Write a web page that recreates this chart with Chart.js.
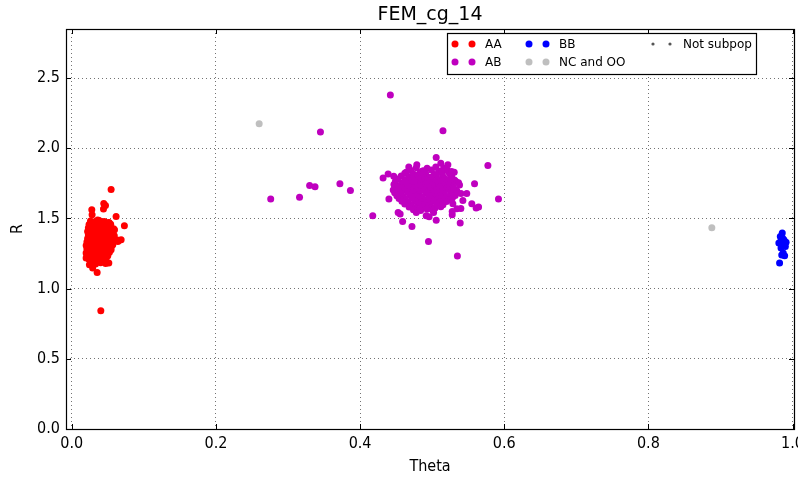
<!DOCTYPE html>
<html>
<head>
<meta charset="utf-8">
<script src="https://cdn.jsdelivr.net/npm/chart.js@4.4.1/dist/chart.umd.min.js"></script>
<style>
html,body{margin:0;padding:0;background:#fff;}
#wrap{width:798px;height:477px;position:relative;}
</style>
</head>
<body>
<div id="wrap"><canvas id="c" width="798" height="477"></canvas></div>
<script>
const chartTitle = 'FEM_cg_14';
const xTitle = 'Theta';
const yTitle = 'R';
const xTicks = [0.0, 0.2, 0.4, 0.6, 0.8, 1.0];
const yTicks = [0.0, 0.5, 1.0, 1.5, 2.0, 2.5];
const seriesNames = ['AA', 'AB', 'BB', 'NC and OO', 'Not subpop'];

const aaPoints = [
[0.026,1.482],[0.032,1.476],[0.038,1.485],[0.045,1.479],[0.051,1.471],
[0.024,1.457],[0.030,1.451],[0.036,1.460],[0.042,1.453],[0.048,1.447],[0.054,1.458],
[0.023,1.432],[0.029,1.426],[0.035,1.435],[0.041,1.428],[0.047,1.421],[0.053,1.434],[0.058,1.427],
[0.022,1.407],[0.028,1.401],[0.034,1.410],[0.040,1.404],[0.046,1.398],[0.052,1.409],[0.057,1.402],
[0.023,1.382],[0.029,1.376],[0.035,1.385],[0.041,1.379],[0.047,1.373],[0.053,1.384],[0.059,1.377],
[0.022,1.357],[0.028,1.351],[0.034,1.360],[0.040,1.354],[0.046,1.348],[0.052,1.359],[0.058,1.352],[0.063,1.346],
[0.021,1.332],[0.027,1.326],[0.033,1.335],[0.039,1.329],[0.045,1.323],[0.051,1.334],[0.057,1.327],
[0.020,1.307],[0.026,1.301],[0.032,1.310],[0.038,1.304],[0.044,1.298],[0.050,1.309],[0.055,1.302],
[0.021,1.282],[0.027,1.276],[0.033,1.285],[0.039,1.279],[0.045,1.273],[0.051,1.284],
[0.022,1.257],[0.028,1.251],[0.034,1.260],[0.040,1.254],[0.046,1.248],
[0.021,1.232],[0.027,1.226],[0.033,1.235],[0.039,1.229],[0.045,1.223],[0.050,1.234],
[0.024,1.207],[0.030,1.201],[0.036,1.210],[0.043,1.204],
[0.027,1.182],[0.033,1.176],[0.040,1.185],[0.047,1.179],
[0.0546,1.707],[0.0468,1.593],[0.044,1.567],[0.0278,1.562],[0.0282,1.526],[0.0615,1.514],
[0.073,1.448],[0.0593,1.42],[0.0653,1.343],[0.0569,1.313],[0.0514,1.182],[0.0352,1.115],
[0.0199,1.254],[0.0199,1.218],[0.0245,1.17],[0.029,1.147],[0.037,1.206],[0.0417,1.206],
[0.0477,1.218],[0.0523,1.26],[0.036,1.49],[0.052,1.47],[0.0546,1.277],[0.0639,1.336],
[0.0685,1.348],[0.0444,1.606],[0.0403,0.843]
];

const abPoints = [
[0.478,1.862],[0.493,1.857],[0.505,1.866],[0.516,1.859],
[0.470,1.843],[0.486,1.836],[0.499,1.845],[0.509,1.838],[0.521,1.842],
[0.462,1.822],[0.474,1.817],[0.483,1.826],[0.491,1.819],[0.503,1.814],[0.514,1.824],[0.524,1.818],
[0.457,1.803],[0.468,1.797],[0.479,1.806],[0.488,1.799],[0.497,1.794],[0.506,1.805],[0.515,1.798],[0.527,1.802],
[0.452,1.782],[0.463,1.776],[0.472,1.785],[0.481,1.779],[0.490,1.773],[0.499,1.784],[0.508,1.777],[0.518,1.781],[0.531,1.775],
[0.449,1.763],[0.459,1.757],[0.468,1.766],[0.476,1.759],[0.485,1.754],[0.494,1.765],[0.503,1.758],[0.511,1.762],[0.520,1.756],[0.533,1.764],
[0.447,1.742],[0.456,1.736],[0.465,1.745],[0.474,1.739],[0.483,1.733],[0.491,1.744],[0.500,1.737],[0.509,1.741],[0.517,1.735],[0.526,1.746],[0.538,1.738],
[0.450,1.723],[0.458,1.717],[0.467,1.726],[0.476,1.719],[0.485,1.714],[0.494,1.725],[0.502,1.718],[0.511,1.722],[0.520,1.716],[0.529,1.724],
[0.446,1.702],[0.455,1.696],[0.463,1.705],[0.471,1.698],[0.480,1.693],[0.489,1.704],[0.497,1.697],[0.506,1.701],[0.515,1.695],[0.523,1.706],[0.534,1.699],
[0.448,1.683],[0.457,1.677],[0.466,1.686],[0.474,1.679],[0.482,1.674],[0.491,1.685],[0.499,1.678],[0.508,1.682],[0.517,1.676],[0.526,1.684],
[0.451,1.662],[0.460,1.656],[0.469,1.665],[0.478,1.658],[0.486,1.653],[0.495,1.664],[0.503,1.657],[0.512,1.661],[0.521,1.655],[0.532,1.663],
[0.454,1.643],[0.463,1.637],[0.472,1.646],[0.481,1.639],[0.490,1.634],[0.498,1.645],[0.507,1.638],[0.516,1.642],[0.524,1.636],
[0.458,1.622],[0.467,1.616],[0.476,1.625],[0.485,1.618],[0.494,1.613],[0.502,1.624],[0.511,1.617],[0.520,1.621],
[0.462,1.603],[0.471,1.597],[0.480,1.606],[0.489,1.599],[0.497,1.594],[0.506,1.605],[0.515,1.598],
[0.468,1.582],[0.477,1.576],[0.486,1.585],[0.495,1.578],[0.504,1.574],[0.512,1.584],
[0.474,1.563],[0.484,1.557],[0.493,1.566],[0.501,1.559],
[0.345,2.117],[0.442,2.379],[0.276,1.638],[0.316,1.652],[0.330,1.735],[0.3375,1.726],
[0.372,1.747],[0.3866,1.70],[0.4176,1.519],[0.4319,1.788],[0.4389,1.816],[0.440,1.638],
[0.4528,1.543],[0.4556,1.531],[0.459,1.479],[0.4639,1.830],[0.4676,1.866],[0.4467,1.80],
[0.515,2.125],[0.5773,1.878],[0.5588,1.747],[0.592,1.638],[0.5389,1.467],[0.4949,1.336],
[0.535,1.232],[0.472,1.443],[0.555,1.605],[0.5644,1.581],[0.561,1.574],[0.548,1.678],
[0.540,1.678],[0.5426,1.628],[0.5366,1.754],[0.5398,1.571],[0.5343,1.569],[0.5278,1.550],
[0.5278,1.526],[0.5056,1.488],[0.4917,1.519],[0.4958,1.512],[0.502,1.543],[0.478,1.543],
[0.5056,1.935],[0.5218,1.882],[0.512,1.894],[0.527,1.835],[0.5306,1.830],[0.513,1.835],
[0.526,1.781],[0.5296,1.717],[0.528,1.645],[0.5287,1.605],[0.4787,1.882],[0.4879,1.840]
];

const bbPoints = [
[0.9857,1.396],[0.983,1.372],[0.988,1.348],[0.981,1.325],[0.989,1.313],[0.984,1.289],
[0.987,1.254],[0.989,1.234],[0.982,1.182],[0.986,1.36],[0.984,1.34],[0.990,1.30],
[0.985,1.24],[0.991,1.33]
];

const ncooPoints = [[0.260,2.175],[0.888,1.434]];
const notSubpopPoints = [];

const toXY = arr => arr.map(p => ({x: p[0], y: p[1]}));
const FONT = "'DejaVu Sans Condensed', 'DejaVu Sans', sans-serif";
const LFONT = "'DejaVu Sans', sans-serif";

const frameAndLegend = {
  id: 'frameAndLegend',
  afterDraw(chart) {
    const ctx = chart.ctx;
    const a = chart.chartArea;
    const xs = chart.scales.x, ys = chart.scales.y;
    ctx.save();
    ctx.strokeStyle = '#000';
    ctx.lineWidth = 1;
    ctx.beginPath();
    xTicks.forEach(v => {
      const px = Math.round(xs.getPixelForValue(v)) + 0.5;
      ctx.moveTo(px, a.bottom); ctx.lineTo(px, a.bottom - 5);
      ctx.moveTo(px, a.top); ctx.lineTo(px, a.top + 5);
    });
    yTicks.forEach(v => {
      const py = Math.round(ys.getPixelForValue(v)) + 0.5;
      ctx.moveTo(a.left, py); ctx.lineTo(a.left + 5, py);
      ctx.moveTo(a.right, py); ctx.lineTo(a.right - 5, py);
    });
    ctx.stroke();
    ctx.lineWidth = 1.2;
    ctx.strokeRect(Math.round(a.left) + 0.5, Math.round(a.top) + 0.5, Math.round(a.right - a.left), Math.round(a.bottom - a.top));
    ctx.fillStyle = '#000';
    ctx.font = '19px ' + LFONT;
    ctx.textAlign = 'center';
    ctx.textBaseline = 'middle';
    ctx.fillText(chartTitle, (a.left + a.right) / 2, 15);
    const lx = 447, ly = 33, lw = 309, lh = 41;
    ctx.fillStyle = '#fff';
    ctx.fillRect(lx, ly, lw, lh);
    ctx.strokeStyle = '#000';
    ctx.lineWidth = 1.2;
    ctx.strokeRect(lx + 0.5, ly + 0.5, lw, lh);
    const cols = [8, 82, 206];
    const rows = [11, 29];
    ctx.font = '12px ' + LFONT;
    ctx.textAlign = 'left';
    chart.data.datasets.forEach((ds, i) => {
      const col = Math.floor(i / 2), row = i % 2;
      const cx = lx + cols[col], cy = ly + rows[row];
      ctx.fillStyle = ds.backgroundColor;
      [0, 17].forEach(dx => {
        ctx.beginPath();
        ctx.arc(cx + dx, cy, ds.pointRadius, 0, Math.PI * 2);
        ctx.fill();
      });
      ctx.fillStyle = '#000';
      ctx.fillText(ds.label, cx + 30, cy + 1);
    });
    ctx.restore();
  }
};

new Chart(document.getElementById('c'), {
  type: 'scatter',
  data: {
    datasets: [
      {label: seriesNames[0], data: toXY(aaPoints), backgroundColor: '#ff0000', borderWidth: 0, pointRadius: 3.5},
      {label: seriesNames[1], data: toXY(abPoints), backgroundColor: '#bf00bf', borderWidth: 0, pointRadius: 3.5},
      {label: seriesNames[2], data: toXY(bbPoints), backgroundColor: '#0000ff', borderWidth: 0, pointRadius: 3.5},
      {label: seriesNames[3], data: toXY(ncooPoints), backgroundColor: '#bfbfbf', borderWidth: 0, pointRadius: 3.5},
      {label: seriesNames[4], data: toXY(notSubpopPoints), backgroundColor: '#555555', borderWidth: 0, pointRadius: 1.6}
    ]
  },
  options: {
    responsive: false,
    animation: false,
    events: [],
    layout: {padding: {top: 29, right: 4, bottom: 0, left: 0}},
    plugins: {legend: {display: false}, title: {display: false}, tooltip: {enabled: false}},
    scales: {
      x: {
        type: 'linear', min: -0.008, max: 1.002,
        afterFit: s => { s.height = 48; s.paddingLeft = 0; s.paddingRight = 0; },
        afterBuildTicks: s => { s.ticks = xTicks.map(v => ({value: v})); },
        ticks: {includeBounds: false, padding: 5, color: '#000', font: {family: FONT, size: 16}, callback: v => v.toFixed(1), maxRotation: 0},
        grid: {color: 'rgba(0,0,0,0.55)', lineWidth: 1, drawTicks: false},
        border: {display: false, dash: [1,3]},
        title: {display: true, text: xTitle, color: '#000', font: {family: FONT, size: 16}, padding: {top: 0, bottom: 1}}
      },
      y: {
        type: 'linear', min: 0, max: 2.85,
        afterFit: s => { s.width = 66; s.paddingTop = 0; s.paddingBottom = 0; },
        afterBuildTicks: s => { s.ticks = yTicks.map(v => ({value: v})); },
        ticks: {includeBounds: false, padding: 6, color: '#000', font: {family: FONT, size: 16}, callback: v => v.toFixed(1)},
        grid: {color: 'rgba(0,0,0,0.55)', lineWidth: 1, drawTicks: false},
        border: {display: false, dash: [1,3]},
        title: {display: true, text: yTitle, color: '#000', font: {family: FONT, size: 16}, padding: {top: 8, bottom: 0}}
      }
    }
  },
  plugins: [frameAndLegend]
});
</script>
</body>
</html>
